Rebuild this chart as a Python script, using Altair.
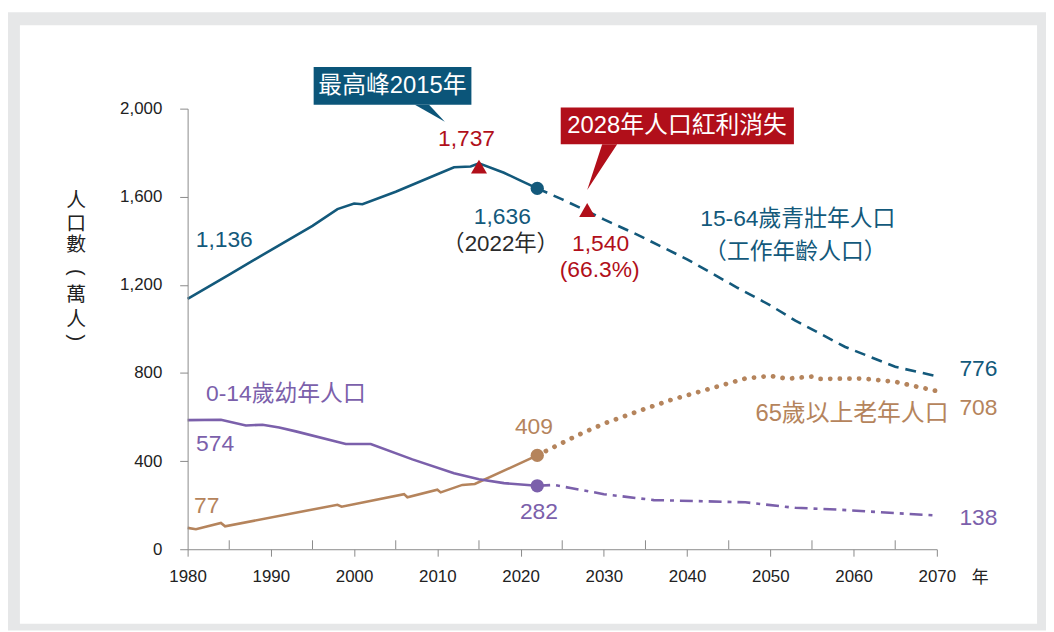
import altair as alt
import pandas as pd

# ---------------- data (萬人) ----------------
# 15-64歲青壯年人口
wa_hist_year = [1980, 1985, 1990, 1995, 1998, 2000, 2001, 2005, 2010, 2012, 2014, 2015, 2018, 2020, 2022]
wa_hist_val = [1136, 1247, 1358, 1468, 1544, 1569, 1566, 1623, 1702, 1734, 1737, 1752, 1709, 1673, 1638]
wa_proj_year = [2022, 2025, 2028, 2030, 2034, 2040, 2046, 2050, 2053, 2059, 2065, 2070]
wa_proj_val = [1638, 1588, 1535, 1497, 1428, 1316, 1188, 1107, 1038, 918, 828, 785]

# 0-14歲幼年人口
ch_hist_year = [1980, 1984, 1987, 1989, 1991, 1993, 1999, 2002, 2007, 2012, 2015, 2018, 2022]
ch_hist_val = [586, 588, 562, 565, 553, 535, 478, 478, 408, 345, 318, 300, 288]
ch_proj_year = [2022, 2024, 2026, 2030, 2036, 2042, 2047, 2053, 2058, 2065, 2070]
ch_proj_val = [288, 292, 278, 250, 223, 218, 213, 188, 180, 164, 153]

# 65歲以上老年人口
el_hist_year = [1980, 1981, 1984, 1984.5, 1998, 1998.5, 2006, 2006.4, 2010, 2010.4, 2013, 2014.5, 2022]
el_hist_val = [97, 91, 119, 104, 202, 193, 250, 236, 270, 258, 292, 296, 426]
el_proj_year = [2022, 2023, 2027, 2030, 2034, 2038, 2043.5, 2047, 2050, 2052, 2055, 2056, 2061, 2065, 2070]
el_proj_val = [426, 445, 520, 570, 625, 677, 737, 775, 787, 774, 784, 773, 775, 760, 718]

# highlighted points
now_year = [2022, 2022, 2022]
now_val = [1638, 288, 426]
peak_year = [2015, 2028]
peak_val = [1737, 1540]

x_ticks = list(range(1980, 2071, 10))
x_minor = list(range(1985, 2066, 10))
y_ticks = [0, 400, 800, 1200, 1600, 2000]

# ---------------- styles ----------------
FONT = "Liberation Sans, Noto Sans CJK TC, sans-serif"
CJK = "Noto Sans CJK TC, sans-serif"
TEAL = "#13597b"
TEAL_BOX = "#0b5579"
PURPLE = "#7b60ab"
BROWN = "#b5845c"
RED = "#b10f1a"
DARK = "#2b2b2b"
AXIS_GRAY = "#8a8a8a"

W, H = 755, 444

X = alt.X("year:Q", scale=alt.Scale(domain=[1980, 2070], nice=False, zero=False),
          axis=alt.Axis(values=x_ticks, labelExpr="format(datum.value, 'd')", title=None, grid=False,
                        tickSize=7, labelPadding=13, labelFontSize=17, labelFont=FONT, labelColor="#222",
                        domainColor=AXIS_GRAY, tickColor=AXIS_GRAY, labelFlush=False, zindex=1))
Y = alt.Y("value:Q", scale=alt.Scale(domain=[0, 2000], nice=False),
          axis=alt.Axis(values=y_ticks, labelExpr="format(datum.value, ',')", title=None, grid=False,
                        tickSize=8, labelPadding=18, labelFontSize=17, labelFont=FONT, labelColor="#222",
                        domainColor=AXIS_GRAY, tickColor=AXIS_GRAY, zindex=1))


def df(years, vals):
    return pd.DataFrame({"year": years, "value": vals})


def line(years, vals, color, dash=None, width=2.6, cap="butt"):
    kw = dict(color=color, strokeWidth=width, strokeCap=cap, clip=False)
    if dash:
        kw["strokeDash"] = dash
    return alt.Chart(df(years, vals)).mark_line(**kw).encode(x=X, y=Y)


def labels(texts, years, vals, color, size, align="center", font=FONT, angle=0):
    d = pd.DataFrame({"year": years, "value": vals, "t": texts})
    return alt.Chart(d).mark_text(color=color, fontSize=size, font=font, align=align, angle=angle,
                                  baseline="middle").encode(x=X, y=Y, text="t:N")


one = pd.DataFrame({"a": [0]})

# background frame
frame = alt.Chart(one).mark_rect(color="#e6e7e8").encode(
    x=alt.value(-181), x2=alt.value(866), y=alt.value(-97), y2=alt.value(526))
panel = alt.Chart(one).mark_rect(color="#ffffff").encode(
    x=alt.value(-169), x2=alt.value(856), y=alt.value(-84), y2=alt.value(519))

# minor ticks (inside)
minor = alt.Chart(pd.DataFrame({"year": x_minor})).mark_rule(color=AXIS_GRAY, strokeWidth=1).encode(
    x=X, y=alt.value(H), y2=alt.value(H - 9))

# callout boxes
box_teal = alt.Chart(pd.DataFrame({"year": [1995.14], "year2": [2014.09], "value": [2189], "value2": [2018]})
                     ).mark_rect(color=TEAL_BOX).encode(x=X, x2="year2:Q", y=Y, y2="value2:Q")
ptr_teal = alt.Chart(pd.DataFrame({"year": [2007.3, 2009.0, 2010.9], "value": [2018, 2018, 1941],
                                   "value2": [2018, 1981.6, 1941]})
                     ).mark_area(color=TEAL_BOX).encode(x=X, y=Y, y2="value2:Q")
box_red = alt.Chart(pd.DataFrame({"year": [2024.82], "year2": [2052.83], "value": [2005], "value2": [1838]})
                    ).mark_rect(color=RED).encode(x=X, x2="year2:Q", y=Y, y2="value2:Q")
ptr_red = alt.Chart(pd.DataFrame({"year": [2028.0, 2029.8, 2031.6], "value": [1631, 1838, 1838],
                                  "value2": [1631, 1734.5, 1838]})
                    ).mark_area(color=RED).encode(x=X, y=Y, y2="value2:Q")
box_txt = labels(["最高峰2015年", "2028年人口紅利消失"], [2004.6, 2038.8], [2104, 1921], "#ffffff", 24)

# series
l_wa_h = line(wa_hist_year, wa_hist_val, TEAL)
l_wa_p = line(wa_proj_year, wa_proj_val, TEAL, dash=[11, 7])
l_ch_h = line(ch_hist_year, ch_hist_val, PURPLE)
l_ch_p = line(ch_proj_year, ch_proj_val, PURPLE, dash=[13, 6, 4, 6])
l_el_h = line(el_hist_year, el_hist_val, BROWN)
l_el_p = line(el_proj_year, el_proj_val, BROWN, dash=[0.1, 9.6], width=4.8, cap="round")

dots = alt.Chart(pd.DataFrame({"year": now_year, "value": now_val, "s": ["wa", "ch", "el"]})).mark_circle(
    size=180, opacity=1).encode(
    x=X, y=Y,
    color=alt.Color("s:N", scale=alt.Scale(domain=["wa", "ch", "el"], range=[TEAL, PURPLE, BROWN]), legend=None))
tris = alt.Chart(df(peak_year, peak_val)).mark_point(shape="triangle-up", filled=True, size=260,
                                                      opacity=1, color=RED).encode(x=X, y=Y)

# text labels
t_teal = labels(["1,136", "1,636", "776"], [1984.4, 2017.8, 2075.0], [1405, 1509, 820], TEAL, 23)
t_teal_cjk = labels(["15-64歲青壯年人口", "（工作年齡人口）"], [2053.3, 2053.0], [1500, 1351], TEAL, 23)
t_red = labels(["1,737", "1,540", "(66.3%)"], [2013.5, 2029.6, 2029.5], [1860, 1387, 1266], RED, 23)
t_dark = labels(["（2022年）"], [2017.6], [1387], DARK, 22.5)
t_pur = labels(["574", "282", "138"], [1983.3, 2022.2, 2075.0], [477, 171, 140], PURPLE, 23)
t_pur_cjk = labels(["0-14歲幼年人口"], [1991.8], [703], PURPLE, 23)
t_br = labels(["77", "409", "708"], [1982.3, 2021.6, 2075.0], [194, 554, 640], BROWN, 23)
t_br_cjk = labels(["65歲以上老年人口"], [2059.8], [613], BROWN, 24)
t_year = labels(["年"], [2075.2], [-131], "#222", 17)

# vertical y-axis title 人口數（萬人）
title_chars = ["人", "口", "數", "萬", "人"]
title_char_y = [1581, 1478, 1380, 1153, 1040]
title_paren = ["(", ")"]
title_paren_y = [1257, 960]
TITLE_X = 1966.6
t_title = labels(title_chars, [TITLE_X] * len(title_chars), title_char_y, "#222", 20, font=CJK)
t_paren = labels(title_paren, [TITLE_X] * 2, title_paren_y, "#222", 20, font="Liberation Sans", angle=90)

chart = alt.layer(
    frame, panel, minor,
    l_el_h, l_el_p, l_ch_h, l_ch_p, l_wa_h, l_wa_p,
    dots, tris,
    box_teal, ptr_teal, box_red, ptr_red, box_txt,
    t_teal, t_teal_cjk, t_red, t_dark, t_pur, t_pur_cjk, t_br, t_br_cjk, t_year, t_title, t_paren,
).properties(
    width=W, height=H,
    padding={"left": 181, "top": 99, "right": 110, "bottom": 81},
    autosize=alt.AutoSizeParams(type="none"),
).configure_view(strokeWidth=0)

chart.save("out.html", embed_options={"renderer": "svg", "actions": False})
